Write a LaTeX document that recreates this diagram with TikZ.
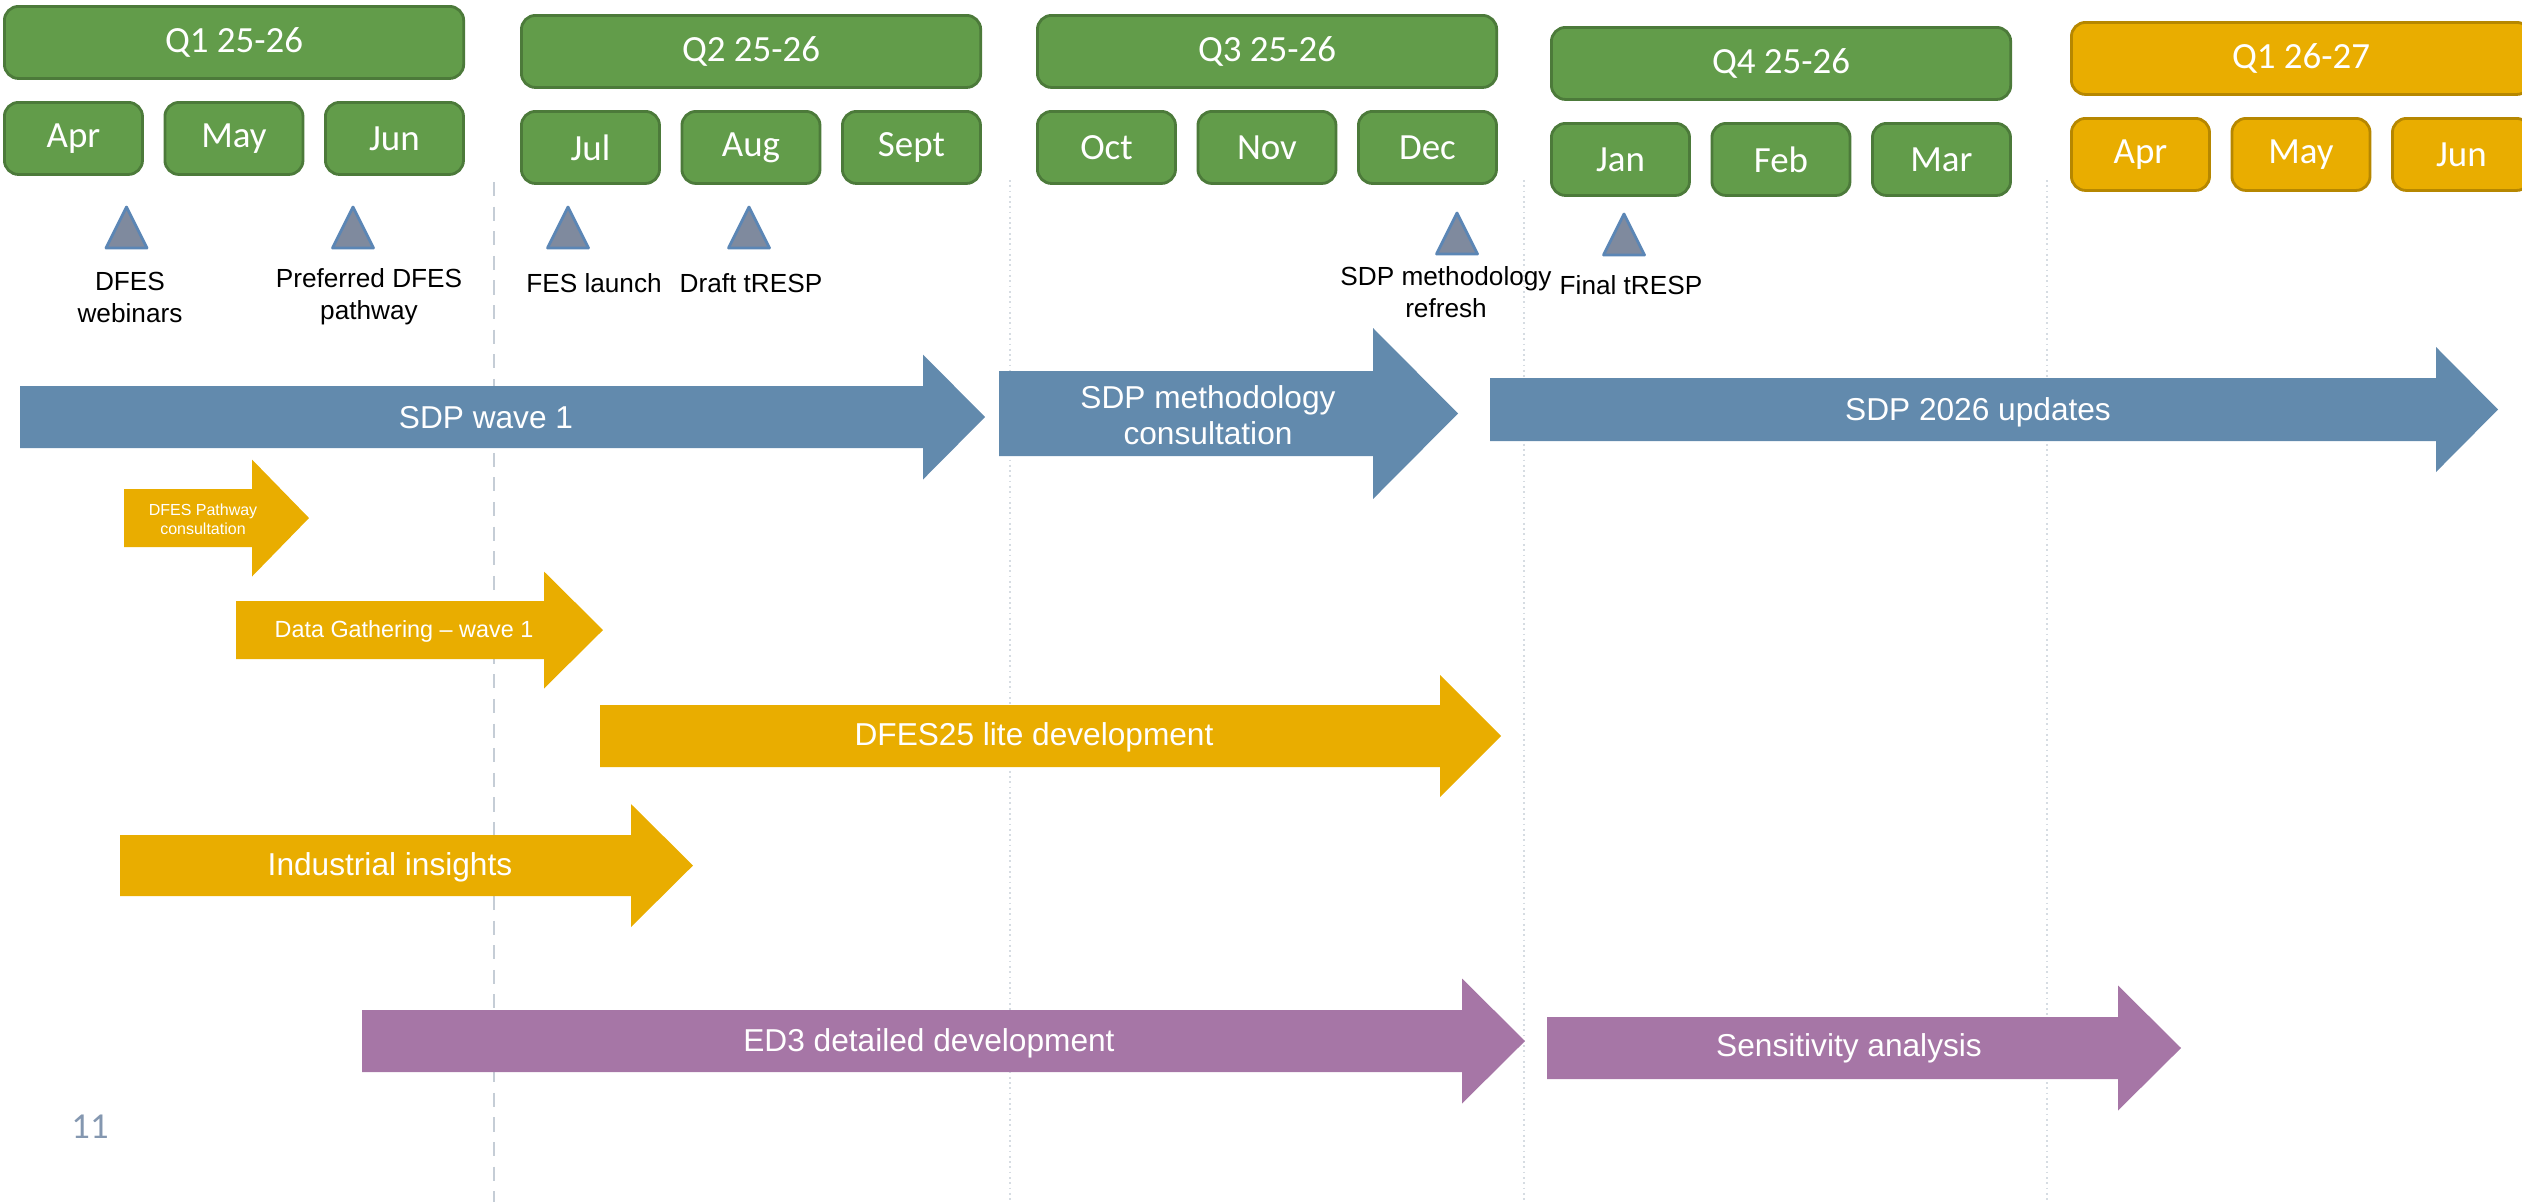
\documentclass[tikz,border=0pt]{standalone}
\usepackage{fontspec}
\setmainfont{Liberation Sans}
\newfontfamily\calibri{Carlito}
\usepackage{xcolor}
\usepackage{tikz}
\usetikzlibrary{calc}
\usetikzlibrary{positioning}
\definecolor{qgreen}{HTML}{629C4A}
\definecolor{qorange}{HTML}{E9AD00}
\definecolor{sdpblue}{HTML}{628AAD}
\definecolor{dfesorange}{HTML}{E9AD00}
\definecolor{edpurple}{HTML}{A676A6}
\definecolor{msfill}{HTML}{7F8A9E}
\definecolor{msline}{HTML}{5B86B5}
\definecolor{guide}{HTML}{C5CDD6}
\definecolor{pagenum}{HTML}{8497B0}

% colour, x start, x head, x tip, y centre, half body, half head
\newcommand{\blockarrow}[7]{%
  \fill[#1] (#2,#5-#6) -- (#3,#5-#6) -- (#3,#5-#7) -- (#4,#5)
    -- (#3,#5+#7) -- (#3,#5+#6) -- (#2,#5+#6) -- cycle;}

\begin{document}
\begin{tikzpicture}[x=0.01cm, y=-0.01cm,
    qbox/.style={rounded corners=4pt, line width=0.8pt, text=white,
      font=\calibri\fontsize{10.5}{12}\selectfont,
      minimum width=4.59cm, minimum height=0.72cm, anchor=north west},
    mbox/.style={qbox, minimum width=1.38cm},
    task/.style={text=white, align=center, inner sep=0pt,
      font=\fontsize{9}{10.4}\selectfont},
    mlabel/.style={align=center, inner sep=0pt,
      font=\fontsize{7.45}{9.1}\selectfont}]
  \useasboundingbox (0,0) rectangle (2522,1202);
  \clip (0,0) rectangle (2522,1202);

  % quarter guides
  \draw[guide, dashed, dash pattern=on 4pt off 3pt, line width=0.5pt] (494,182) -- (494,1202);
  \foreach \gx in {1010,1524,2047}
    \draw[guide!70, densely dotted, line width=0.5pt] (\gx,180) -- (\gx,1202);

  % quarters and months
  \foreach \q/\qx/\qy/\qlab/\qc/\ma/\mb/\mc in {
      1/3/5/{Q1 25-26}/qgreen/Apr/May/Jun,
      2/520/14/{Q2 25-26}/qgreen/Jul/Aug/Sept,
      3/1036/14/{Q3 25-26}/qgreen/Oct/Nov/Dec,
      4/1550/26/{Q4 25-26}/qgreen/Jan/Feb/Mar,
      5/2070/21/{Q1 26-27}/qorange/Apr/May/Jun} {
    \node[qbox, fill=\qc, draw=\qc!78!black] (q\q) at (\qx,\qy) {\qlab};
    \foreach \m [count=\i from 0] in {\ma,\mb,\mc}
      \node[mbox, fill=\qc, draw=\qc!78!black] (q\q m\i) at (\qx+\i*160.5,\qy+96) {\m};
  }

  % milestones
  \foreach \n/\tx/\ty in {web/126.5/207, pref/353/207, fes/568/207,
      draft/749/207, refresh/1457/213, final/1624/214} {
    \coordinate (ms\n) at (\tx,\ty);
    \filldraw[fill=msfill, draw=msline, line width=0.8pt, line join=round]
      ($(ms\n)+(-20.5,41)$) -- (ms\n) -- ($(ms\n)+(20.5,41)$) -- cycle;
  }
  \node[mlabel] (lweb) at (130,297) {DFES\\webinars};
  \node[mlabel] (lpref) at (369,297) {Preferred DFES\\pathway};
  \node[mlabel] (lfes) at (594,283) {FES launch};
  \node[mlabel] (ldraft) at (751,283) {Draft tRESP};
  \node[mlabel] (lrefresh) at (1446,292) {SDP methodology\\refresh};
  \node[mlabel] (lfinal) at (1631,285) {Final tRESP};

  % SDP workstream
  \blockarrow{sdpblue}{20}{923}{985}{417}{31}{62.5}
  \node[task] (wave1) at (486,418) {SDP wave 1};
  \blockarrow{sdpblue}{999}{1373}{1458}{413.5}{42.5}{85.5}
  \node[task] (consult) at (1208,415) {SDP methodology\\consultation};
  \blockarrow{sdpblue}{1490}{2436}{2498}{409.5}{31.5}{62.5}
  \node[task] (updates) at (1978,412) {SDP 2026 updates};

  % DFES workstream
  \blockarrow{dfesorange}{124}{252}{309}{518}{29}{58.5}
  \node[task, font=\fontsize{4.55}{5.5}\selectfont] (pathcons) at (203,519) {DFES Pathway\\consultation};
  \blockarrow{dfesorange}{236}{544}{603}{630}{29}{58.5}
  \node[task, font=\fontsize{6.65}{8}\selectfont] (gather) at (404,631) {Data Gathering -- wave 1};
  \blockarrow{dfesorange}{600}{1440}{1501}{736}{31}{61}
  \node[task] (lite) at (1034,737) {DFES25 lite development};
  \blockarrow{dfesorange}{120}{631}{693}{865.5}{30.5}{61.5}
  \node[task] (industrial) at (390,867) {Industrial insights};

  % ED3 workstream
  \blockarrow{edpurple}{362}{1462}{1525}{1041}{31}{62.5}
  \node[task] (ed3) at (929,1043) {ED3 detailed development};
  \blockarrow{edpurple}{1547}{2118}{2181}{1048}{31}{62.5}
  \node[task] (sens) at (1849,1048) {Sensitivity analysis};

  \node[text=pagenum, font=\calibri\fontsize{10.4}{12}\selectfont] (page) at (90,1127) {11};
\end{tikzpicture}
\end{document}
